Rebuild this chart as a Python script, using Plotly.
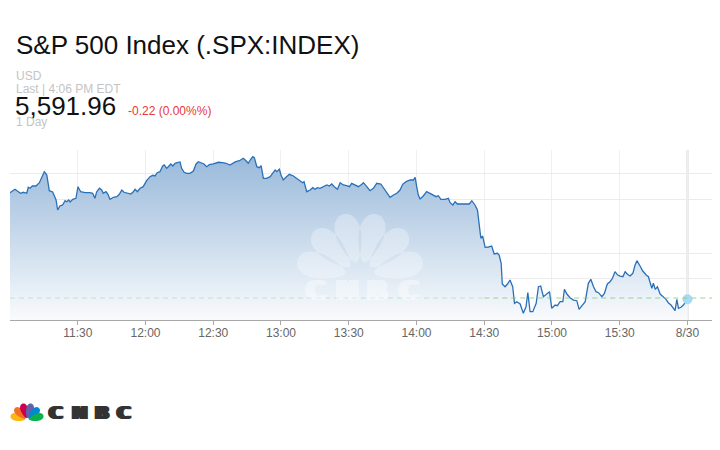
import numpy as np
import pandas as pd
import plotly.graph_objects as go

# ---------------- data ----------------
minutes = [
    0.0, 2.2, 3.7, 4.7, 5.9, 7.4, 8.1, 8.9, 9.9, 11.5,
    13.0, 14.0, 15.2, 16.3, 17.4, 18.9, 19.9, 20.4, 21.1, 22.1,
    23.3, 24.4, 25.1, 26.0, 26.6, 27.8, 29.2, 30.1, 31.3, 33.2,
    35.4, 36.6, 37.6, 38.4, 39.6, 40.6, 41.3, 42.5, 43.3, 44.3,
    45.8, 47.3, 48.4, 49.5, 50.5, 52.4, 53.5, 54.6, 55.4, 56.4,
    57.6, 59.0, 60.5, 62.0, 63.2, 64.2, 65.2, 66.4, 67.6, 68.3,
    69.4, 70.1, 71.2, 72.1, 73.1, 74.1, 75.3, 76.0, 77.1, 78.3,
    79.7, 81.2, 82.4, 83.4, 84.9, 85.9, 87.1, 88.3, 90.0, 92.3,
    94.2, 95.7, 97.4, 99.7, 101.6,
    103.3, 104.5, 105.5, 106.6, 107.5, 108.2, 109.3, 110.4, 111.2, 112.2,
    113.7, 115.2, 116.4, 117.4, 118.1, 119.3, 120.0, 121.0, 122.2, 123.7,
    125.5, 127.0, 128.4, 129.6, 130.2, 131.4, 132.9, 134.1, 135.1, 136.1,
    137.3, 138.8, 140.3, 141.4, 142.5, 143.6, 145.0, 146.2, 147.6, 149.1,
    150.3, 151.3, 152.8, 154.3, 155.8, 156.5, 158.0, 159.4, 160.9, 162.4,
    164.2, 165.6, 166.8, 168.3, 169.8, 171.3, 172.7, 173.9, 175.4, 177.2,
    178.6, 179.4, 180.1, 180.8, 181.6, 183.0, 184.5, 186.0, 187.5, 188.7,
    189.7, 190.8, 192.7, 194.1, 194.9, 196.1, 197.1, 198.1, 200.8, 203.4,
    204.5, 205.9, 207.0, 207.9, 208.5, 209.3, 210.4, 211.9, 213.3, 214.4,
    215.8, 216.6, 217.5, 218.0, 219.2, 220.3, 221.4, 222.6, 223.4, 224.4,
    225.9, 227.3, 228.5, 229.3, 230.3, 231.5, 233.0, 234.0, 235.0, 236.2,
    237.7, 238.9, 239.9, 241.4, 242.4, 243.6, 244.8, 245.5, 246.6, 248.0,
    249.5, 251.0, 252.0, 253.2, 254.7, 256.1, 257.2, 258.4, 259.5, 260.6,
    262.1, 263.2, 264.5, 265.7, 266.8, 267.9, 269.1, 270.2, 271.4, 272.4,
    273.4, 274.6, 275.8, 276.8, 277.6, 279.0, 280.2, 281.7, 282.7, 284.2,
    284.9, 285.7, 286.7, 287.9, 289.4, 290.5, 291.5, 292.7, 293.8, 294.5,
    295.3, 296.0, 297.1, 298.2, 300.0,
]

prices = [
    5612.16, 5612.81, 5612.35, 5612.05, 5612.24, 5612.05, 5613.19, 5613.00, 5613.43, 5613.43,
    5614.06, 5615.08, 5616.15, 5615.52, 5612.54, 5612.29, 5611.40, 5610.78, 5608.88, 5609.64,
    5609.83, 5610.64, 5610.45, 5610.78, 5610.40, 5610.91, 5611.10, 5613.30, 5612.35, 5612.16,
    5612.16, 5612.05, 5611.10, 5612.35, 5613.00, 5612.67, 5612.05, 5612.35, 5611.91, 5610.91,
    5611.29, 5611.40, 5611.86, 5612.67, 5612.24, 5612.05, 5611.91, 5612.35, 5612.81, 5612.35,
    5613.00, 5613.30, 5614.44, 5615.20, 5615.46, 5615.33, 5615.96, 5616.15, 5617.23, 5617.42,
    5616.79, 5617.09, 5617.61, 5617.23, 5617.74, 5617.85, 5617.99, 5616.79, 5616.03, 5615.84,
    5615.84, 5616.28, 5617.61, 5618.04, 5617.74, 5617.61, 5617.09, 5617.47, 5617.61, 5617.93,
    5617.85, 5617.74, 5617.42, 5617.99, 5618.23,
    5618.69, 5618.23, 5617.74, 5618.50, 5618.99, 5618.80, 5617.09, 5616.90, 5617.28, 5614.89,
    5614.89, 5615.20, 5615.84, 5616.47, 5616.15, 5616.60, 5615.52, 5614.57, 5615.08, 5615.65,
    5615.33, 5614.89, 5614.57, 5614.06, 5614.25, 5612.35, 5612.67, 5613.11, 5612.81, 5613.11,
    5613.00, 5613.30, 5613.62, 5613.43, 5613.81, 5613.30, 5612.81, 5614.06, 5613.62, 5613.49,
    5613.30, 5613.94, 5613.62, 5613.30, 5613.75, 5614.06, 5613.30, 5612.54, 5613.00, 5613.94,
    5613.81, 5613.00, 5612.35, 5611.29, 5611.72, 5612.05, 5612.67, 5613.75, 5614.25, 5614.57,
    5614.57, 5615.08, 5613.30, 5611.72, 5610.97, 5611.53, 5612.35, 5612.05, 5611.72, 5611.40,
    5611.59, 5610.91, 5610.91, 5611.10, 5610.26, 5609.83, 5610.45, 5610.02, 5610.02, 5610.02,
    5610.64, 5609.83, 5608.88, 5605.71, 5603.51, 5603.94, 5601.80, 5601.86, 5602.05, 5600.53,
    5600.66, 5600.34, 5598.76, 5594.84, 5594.32, 5594.84, 5595.60, 5594.32, 5591.17, 5591.48,
    5591.04, 5589.28, 5590.53, 5593.19, 5589.58, 5589.58, 5591.17, 5594.32, 5594.46, 5592.43,
    5593.07, 5593.38, 5590.23, 5590.85, 5590.72, 5591.48, 5591.48, 5593.83, 5592.94, 5592.24,
    5591.80, 5591.67, 5590.04, 5590.72, 5591.48, 5594.97, 5595.73, 5594.32, 5593.38, 5593.19,
    5592.43, 5593.07, 5594.84, 5595.27, 5595.92, 5597.17, 5596.54, 5596.35, 5596.22, 5597.17,
    5596.68, 5596.35, 5596.87, 5598.44, 5599.26, 5598.25, 5597.30, 5596.54, 5596.22, 5594.02,
    5594.97, 5593.83, 5594.32, 5592.94, 5592.43, 5591.93, 5591.29, 5590.85, 5590.23, 5589.77,
    5591.93, 5590.23, 5590.42, 5590.85, 5591.96,
]

prev_close = 5592.18
last_price = "5,591.96"
change_text = "-0.22 (0.00%%)"
title_text = "S&P 500 Index (.SPX:INDEX)"
currency = "USD"
last_time = "Last | 4:06 PM EDT"
period = "1 Day"
brand = "CNBC"

tick_times = ["11:30", "12:00", "12:30", "13:00", "13:30", "14:00", "14:30", "15:00", "15:30", "16:00"]
tick_labels = ["11:30", "12:00", "12:30", "13:00", "13:30", "14:00", "14:30", "15:00", "15:30", "8/30"]
grid_prices = [5595.79, 5600.72, 5610.78, 5615.71]

# ---------------- build ----------------
W, H = 720, 450
OFF = 8  # page body margin of the browser
day = "2024-08-30"
start = pd.Timestamp(f"{day} 11:00")
times = [start + pd.Timedelta(minutes=m) for m in minutes]
tickvals = [pd.Timestamp(f"{day} {t}") for t in tick_times]
x_end = start + pd.Timedelta(minutes=314.4)
y_lo, y_hi = 5588.01, 5620.26


def PX(x):
    return (x - OFF) / W


def PY(y):
    return 1 - (y - OFF) / H


fig = go.Figure()

# baseline for the area fill
fig.add_trace(go.Scatter(x=[times[0], times[-1]], y=[y_lo, y_lo], mode="lines",
                         line=dict(width=0, color="rgba(0,0,0,0)"),
                         hoverinfo="skip", showlegend=False))
fig.add_trace(go.Scatter(
    x=times, y=prices, mode="lines",
    line=dict(color="#2a70b8", width=1.3),
    fill="tonexty",
    fillgradient=dict(type="vertical",
                      colorscale=[[0, "#f9fbfd"], [1, "#99b9da"]],
                      start=y_lo, stop=max(prices)),
    showlegend=False, hoverinfo="skip"))

# last point dot
fig.add_trace(go.Scatter(x=[times[-1]], y=[prices[-1]], mode="markers",
                         marker=dict(size=10, color="#a6dbf6"),
                         showlegend=False, hoverinfo="skip"))

shapes = []
mid = pd.Timestamp(f"{day} 14:30")
shapes.append(dict(type="line", xref="x", yref="y", x0=start, x1=mid, y0=prev_close, y1=prev_close,
                   line=dict(color="rgba(130,200,110,0.35)", width=1, dash="5px,4px"), layer="above"))
shapes.append(dict(type="line", xref="x", yref="y", x0=mid, x1=x_end, y0=prev_close, y1=prev_close,
                   line=dict(color="rgba(130,200,110,0.75)", width=1, dash="5px,4px"), layer="above"))
# day boundary gridline
shapes.append(dict(type="line", xref="x", yref="paper", x0=tickvals[-1], x1=tickvals[-1],
                   y0=PY(320), y1=PY(150), line=dict(color="#d6d6d6", width=2), layer="below"))


def feather_path(cx, cy, ang, r0, a, b, n=36):
    th = np.deg2rad(ang)
    ux, uy = np.cos(th), -np.sin(th)
    vx, vy = -uy, ux
    ex, ey = cx + r0 * ux, cy + r0 * uy
    pts = []
    for t in np.linspace(0, 2 * np.pi, n, endpoint=False):
        bb = b * (0.8 + 0.3 * np.cos(t))
        px_ = ex + a * np.cos(t) * ux + bb * np.sin(t) * vx
        py_ = ey + a * np.cos(t) * uy + bb * np.sin(t) * vy
        pts.append(f"{PX(px_):.5f},{PY(py_):.5f}")
    return "M" + " L".join(pts) + " Z"


angles = [165, 135, 105, 75, 45, 15]
logo_colors = ["#fcb711", "#f37021", "#cc004c", "#6460aa", "#0089d0", "#0db14b"]

# watermark peacock: one path, so overlaps are painted once
wm_path = " ".join(feather_path(360, 277, ang, 40, 25, 15) for ang in angles)
shapes.append(dict(type="path", xref="paper", yref="paper", path=wm_path,
                   fillcolor="rgba(255,255,255,0.30)", line=dict(width=0), layer="above"))
# logo peacock
for ang, col in zip(angles, logo_colors):
    shapes.append(dict(type="path", xref="paper", yref="paper",
                       path=feather_path(27, 420, ang, 9.5, 7.5, 4.4),
                       fillcolor=col, line=dict(width=0), layer="above"))

fig.update_layout(shapes=shapes)

FONT = "Liberation Sans"


def ann(x, y, text, size, color, family=FONT, anchor="left", weight="normal", shadow="none", opacity=1):
    fig.add_annotation(x=PX(x), y=PY(y), xref="paper", yref="paper", text=text,
                       showarrow=False, xanchor=anchor, yanchor="middle", opacity=opacity,
                       font=dict(family=family, size=size, color=color, weight=weight, shadow=shadow))


ann(14, 45, title_text, 26, "#111111")
ann(14, 76, currency, 12, "#c4c4c4")
ann(14, 88.5, last_time, 12, "#c4c4c4")
ann(13, 105.5, last_price, 26, "#111111")
ann(126, 111, change_text, 12, "#e53935")
ann(14, 121.5, period, 12, "#c4c4c4")


def widen(px, color):
    steps = [px, -px, px * 0.5, -px * 0.5]
    return ", ".join(f"{s:.1f}px 0px 0px {color}" for s in steps)


# watermark letters
for cx, ch in zip([316, 347, 378, 409], brand):
    ann(cx, 290, ch, 27, "#ffffff", family="DejaVu Sans", anchor="center", weight="bold",
        shadow=widen(2.5, "#ffffff"), opacity=0.4)
# logo letters
for cx, ch in zip([56, 79, 101.5, 124], brand):
    ann(cx, 412.5, ch, 18.5, "#333333", family="DejaVu Sans", anchor="center", weight="bold",
        shadow=widen(2.0, "#333333"))

fig.update_layout(
    width=W, height=H, autosize=False,
    margin=dict(l=0, r=0, t=0, b=0),
    paper_bgcolor="white", plot_bgcolor="white",
    showlegend=False,
    xaxis=dict(domain=[PX(10), PX(720)], range=[start, x_end], type="date",
               tickvals=tickvals, ticktext=tick_labels,
               showgrid=True, gridcolor="#efefef", gridwidth=1,
               showline=True, linecolor="#a8a8a8", linewidth=1,
               ticks="outside", ticklen=4, tickcolor="#a8a8a8",
               ticklabelstandoff=-2,
               tickfont=dict(family=FONT, size=12, color="#666666"),
               zeroline=False, fixedrange=True),
    yaxis=dict(domain=[PY(320), PY(150)], range=[y_lo, y_hi],
               tickvals=grid_prices, showticklabels=False,
               showgrid=True, gridcolor="#ebebeb", gridwidth=1,
               zeroline=False, showline=False, fixedrange=True),
)

fig.write_html("out.html")
